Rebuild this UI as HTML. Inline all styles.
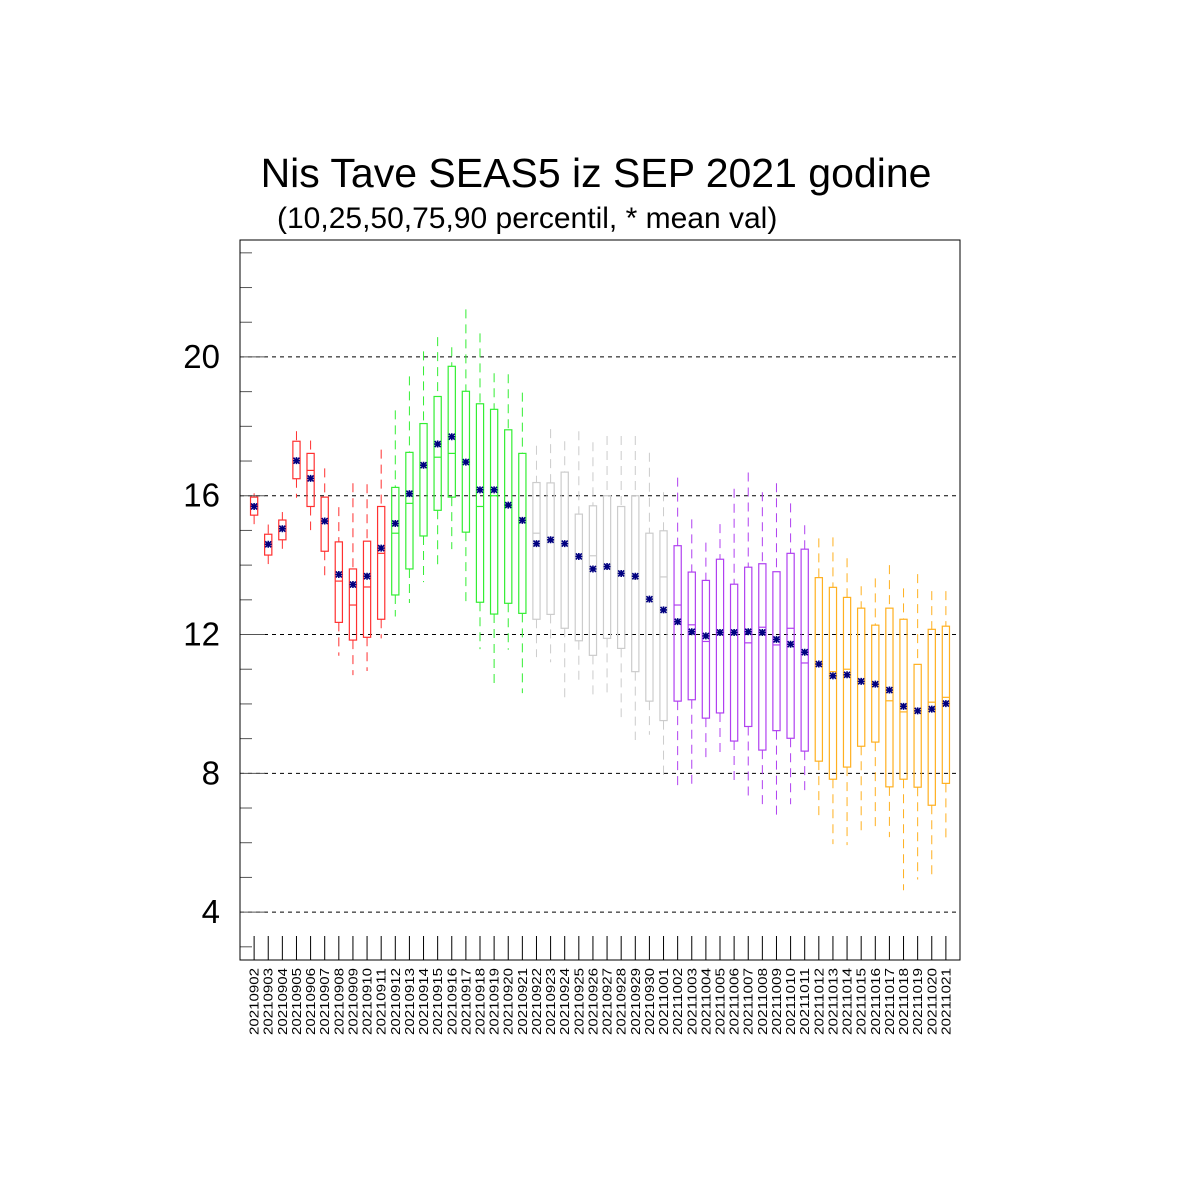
<!DOCTYPE html>
<html><head><meta charset="utf-8"><style>body{margin:0;background:#fff}svg{display:block}</style></head>
<body>
<svg id="chart" width="1200" height="1200" xmlns="http://www.w3.org/2000/svg" font-family="Liberation Sans, sans-serif">
<rect width="1200" height="1200" fill="#fff"/>
<text x="596" y="187" font-size="41" text-anchor="middle">Nis Tave SEAS5 iz SEP 2021 godine</text>
<text x="277" y="228" font-size="30">(10,25,50,75,90 percentil, * mean val)</text>
<g id="grid"></g><g id="marks"></g><g id="axes"></g>
</svg>
<script>
const dates=["20210902","20210903","20210904","20210905","20210906","20210907","20210908","20210909","20210910","20210911","20210912","20210913","20210914","20210915","20210916","20210917","20210918","20210919","20210920","20210921","20210922","20210923","20210924","20210925","20210926","20210927","20210928","20210929","20210930","20211001","20211002","20211003","20211004","20211005","20211006","20211007","20211008","20211009","20211010","20211011","20211012","20211013","20211014","20211015","20211016","20211017","20211018","20211019","20211020","20211021"];
const p90=[16.07,15.17,15.53,17.86,17.59,16.79,15.67,16.36,16.33,17.33,18.46,19.44,20.16,20.57,20.28,21.37,20.68,19.53,19.50,18.97,17.44,17.92,17.57,17.86,17.54,17.72,17.72,17.72,17.24,16.10,16.52,15.32,14.65,15.18,16.20,16.67,16.10,16.36,15.78,15.15,14.77,14.80,14.20,13.39,13.62,14.00,13.33,13.74,13.25,13.25];
const p75=[15.96,14.89,15.30,17.57,17.22,15.96,14.67,13.89,14.69,15.69,16.24,17.25,18.08,18.86,19.73,19.01,18.65,18.49,17.90,17.22,16.38,16.37,16.68,15.47,15.71,16.00,15.69,16.00,14.92,14.99,14.56,13.80,13.56,14.17,13.45,13.94,14.04,13.81,14.34,14.46,13.64,13.36,13.07,12.76,12.27,12.76,12.44,11.14,12.15,12.24];
const p50=[15.73,14.60,15.05,17.01,16.73,15.27,13.54,12.85,13.37,14.34,14.92,15.78,16.88,17.11,17.22,16.97,15.69,16.00,15.70,15.30,14.92,14.70,14.62,14.25,14.27,13.96,13.76,13.59,13.02,13.66,12.85,12.28,11.80,12.00,12.06,11.76,12.21,11.70,12.18,11.18,11.15,10.93,11.00,10.65,10.57,10.09,9.77,9.80,10.05,10.19];
const p25=[15.44,14.29,14.73,16.49,15.69,14.40,12.35,11.84,11.92,12.44,13.14,13.89,14.84,15.58,15.96,14.95,12.93,12.59,12.90,12.61,12.44,12.58,12.18,11.82,11.40,11.89,11.60,10.93,10.08,9.52,10.08,10.12,9.59,9.74,8.93,9.35,8.67,9.23,9.01,8.64,8.35,7.83,8.18,8.78,8.90,7.61,7.83,7.60,7.08,7.71];
const p10=[15.01,13.94,14.46,15.94,15.01,13.54,11.39,10.83,10.95,11.89,12.52,12.91,13.51,13.99,14.46,12.82,11.58,10.57,11.56,10.31,11.35,11.20,10.06,10.65,10.16,10.23,9.62,8.96,9.11,7.86,7.49,7.64,8.37,8.52,7.72,7.22,7.11,6.76,7.11,7.44,6.68,5.96,5.93,6.24,6.39,6.16,4.63,4.94,5.09,6.02];
const means=[15.69,14.60,15.05,17.01,16.50,15.27,13.73,13.44,13.68,14.49,15.20,16.06,16.88,17.49,17.70,16.97,16.17,16.17,15.73,15.29,14.62,14.73,14.62,14.25,13.89,13.96,13.76,13.68,13.02,12.71,12.37,12.08,11.96,12.06,12.06,12.08,12.06,11.86,11.72,11.49,11.15,10.81,10.84,10.65,10.57,10.40,9.93,9.80,9.85,10.01];
const yTicks=[4,8,12,16,20];
const groupColors=["#ff3030","#33ee33","#cccccc","#b040f0","#ffb020"];

const NS="http://www.w3.org/2000/svg";
const L=240,R=960,T=240,B=960;
const ymin=2.62,ymax=23.37;
const y=v=>B-(v-ymin)/(ymax-ymin)*(B-T);
const x=i=>L+(i+1)*(R-L)/(dates.length+1);
function mk(tag,attrs,parent){const e=document.createElementNS(NS,tag);for(const k in attrs)e.setAttribute(k,attrs[k]);parent.appendChild(e);return e;}
const grid=document.getElementById('grid'),marks=document.getElementById('marks'),axes=document.getElementById('axes');

yTicks.forEach(t=>{
  const g=mk('line',{x1:L,x2:R,y1:y(t),y2:y(t),stroke:'#000','stroke-width':1,'stroke-dasharray':'4,4'},grid);
  
  
  const lb=mk('text',{x:220,y:y(t)+11,'font-size':33,'text-anchor':'end'},axes);
  lb.textContent=t;
  
  
});
for(let v=3;v<=23;v++){
  const major=yTicks.includes(v);
  const tk=mk('line',{x1:L,x2:L+(major?25:12),y1:y(v),y2:y(v),stroke:'#555','stroke-width':1},axes);
  
  
}
const hw=3.6;
dates.forEach((d,i)=>{
  const cx=x(i),col=groupColors[Math.floor(i/10)];
  const g=mk('g',{},marks);
  
  
  mk('line',{x1:cx,x2:cx,y1:y(p90[i]),y2:y(p75[i]),stroke:col,'stroke-dasharray':'9,6'},g);
  mk('line',{x1:cx,x2:cx,y1:y(p25[i]),y2:y(p10[i]),stroke:col,'stroke-dasharray':'9,6'},g);
  mk('rect',{x:cx-hw,y:y(p75[i]),width:hw*2,height:y(p25[i])-y(p75[i]),fill:'none',stroke:col,'stroke-width':1.2},g);
  mk('line',{x1:cx-hw,x2:cx+hw,y1:y(p50[i]),y2:y(p50[i]),stroke:col,'stroke-width':1.2},g);
  const my=y(means[i]);
  const m=mk('path',{d:`M${cx-3.5},${my}h7M${cx},${my-3.5}v7M${cx-3},${my-3}l6,6M${cx-3},${my+3}l6,-6`,stroke:'#000080','stroke-width':1.6},g);
  
  
  const tk=mk('line',{x1:cx,x2:cx,y1:936,y2:B,stroke:'#000'},axes);
  
  
  const lb=mk('text',{x:0,y:0,'font-size':12.5,'text-anchor':'end',textLength:67,lengthAdjust:'spacingAndGlyphs',transform:`translate(${cx+4.5},968) rotate(-90)`},axes);
  lb.textContent=d;
  
  
});
const fr=mk('rect',{x:L,y:T,width:R-L,height:B-T,fill:'none',stroke:'#000','stroke-width':1},axes);


</script>
</body></html>
